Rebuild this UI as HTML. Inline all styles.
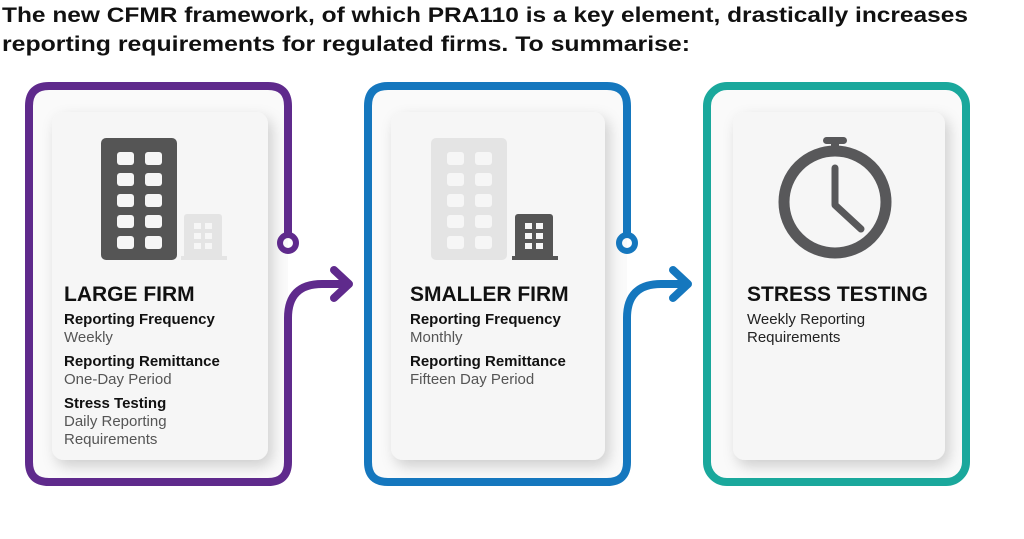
<!DOCTYPE html>
<html><head><meta charset="utf-8"><style>
html,body{margin:0;padding:0;background:#fff;}
svg{display:block;font-family:"Liberation Sans",sans-serif;}
</style></head><body>
<svg width="1024" height="539" viewBox="0 0 1024 539" xmlns="http://www.w3.org/2000/svg">
<defs>
<filter id="sh" x="-20%" y="-20%" width="140%" height="140%">
<feDropShadow dx="4" dy="6" stdDeviation="7" flood-color="#000" flood-opacity="0.18"/>
</filter>
</defs>
<text x="2" y="22" font-size="21" font-weight="bold" fill="#111" textLength="966" lengthAdjust="spacingAndGlyphs">The new CFMR framework, of which PRA110 is a key element, drastically increases</text>
<text x="2" y="51" font-size="21" font-weight="bold" fill="#111" textLength="688" lengthAdjust="spacingAndGlyphs">reporting requirements for regulated firms.  To summarise:</text>

<!-- backgrounds -->
<rect x="29" y="86" width="259" height="396" rx="20" fill="#fafafa"/>
<rect x="368" y="86" width="259" height="396" rx="20" fill="#fafafa"/>
<rect x="707" y="86" width="259" height="396" rx="20" fill="#fafafa"/>

<!-- inner cards -->
<rect x="52" y="112" width="216" height="348" rx="12" fill="#f6f6f6" filter="url(#sh)"/>
<rect x="391" y="112" width="214" height="348" rx="12" fill="#f6f6f6" filter="url(#sh)"/>
<rect x="733" y="112" width="212" height="348" rx="12" fill="#f6f6f6" filter="url(#sh)"/>

<!-- frame 1 -->
<g fill="none" stroke="#5f2a8c" stroke-width="8" stroke-linecap="round" stroke-linejoin="round">
<path d="M288,234 V106 Q288,86 268,86 H49 Q29,86 29,106 V462 Q29,482 49,482 H268 Q288,482 288,462 V318 Q288,284 322,284 H348"/>
<path d="M334,270 L349,284 L334,298"/>
<circle cx="288" cy="243" r="8" stroke-width="6"/>
</g>
<!-- frame 2 -->
<g fill="none" stroke="#1577be" stroke-width="8" stroke-linecap="round" stroke-linejoin="round">
<path d="M627,234 V106 Q627,86 607,86 H388 Q368,86 368,106 V462 Q368,482 388,482 H607 Q627,482 627,462 V318 Q627,284 661,284 H687"/>
<path d="M673,270 L688,284 L673,298"/>
<circle cx="627" cy="243" r="8" stroke-width="6"/>
</g>
<!-- frame 3 -->
<rect x="707" y="86" width="259" height="396" rx="20" fill="none" stroke="#1aa89c" stroke-width="8"/>

<!-- building set 1 -->
<g>
<rect x="101" y="138" width="76" height="122" rx="5" fill="#555"/>
<g fill="#f6f6f6">
<rect x="117" y="152" width="17" height="13" rx="3"/><rect x="145" y="152" width="17" height="13" rx="3"/>
<rect x="117" y="173" width="17" height="13" rx="3"/><rect x="145" y="173" width="17" height="13" rx="3"/>
<rect x="117" y="194" width="17" height="13" rx="3"/><rect x="145" y="194" width="17" height="13" rx="3"/>
<rect x="117" y="215" width="17" height="13" rx="3"/><rect x="145" y="215" width="17" height="13" rx="3"/>
<rect x="117" y="236" width="17" height="13" rx="3"/><rect x="145" y="236" width="17" height="13" rx="3"/>
</g>
<rect x="184" y="214" width="38" height="46" rx="3" fill="#e4e4e4"/>
<rect x="181" y="256" width="46" height="4" fill="#e4e4e4"/>
<g fill="#f6f6f6">
<rect x="194" y="223" width="7" height="6"/><rect x="205" y="223" width="7" height="6"/>
<rect x="194" y="233" width="7" height="6"/><rect x="205" y="233" width="7" height="6"/>
<rect x="194" y="243" width="7" height="6"/><rect x="205" y="243" width="7" height="6"/>
</g>
</g>
<!-- building set 2 -->
<g>
<rect x="431" y="138" width="76" height="122" rx="5" fill="#e4e4e4"/>
<g fill="#f6f6f6">
<rect x="447" y="152" width="17" height="13" rx="3"/><rect x="475" y="152" width="17" height="13" rx="3"/>
<rect x="447" y="173" width="17" height="13" rx="3"/><rect x="475" y="173" width="17" height="13" rx="3"/>
<rect x="447" y="194" width="17" height="13" rx="3"/><rect x="475" y="194" width="17" height="13" rx="3"/>
<rect x="447" y="215" width="17" height="13" rx="3"/><rect x="475" y="215" width="17" height="13" rx="3"/>
<rect x="447" y="236" width="17" height="13" rx="3"/><rect x="475" y="236" width="17" height="13" rx="3"/>
</g>
<rect x="515" y="214" width="38" height="46" rx="3" fill="#555"/>
<rect x="512" y="256" width="46" height="4" fill="#555"/>
<g fill="#f6f6f6">
<rect x="525" y="223" width="7" height="6"/><rect x="536" y="223" width="7" height="6"/>
<rect x="525" y="233" width="7" height="6"/><rect x="536" y="233" width="7" height="6"/>
<rect x="525" y="243" width="7" height="6"/><rect x="536" y="243" width="7" height="6"/>
</g>
</g>
<!-- stopwatch -->
<g fill="none" stroke="#58585a" stroke-linecap="round">
<circle cx="835" cy="202" r="51" stroke-width="11"/>
<rect x="823" y="137" width="24" height="7" rx="3.5" fill="#58585a" stroke="none"/>
<rect x="831" y="143" width="8" height="8" fill="#58585a" stroke="none"/>
<path d="M835,168 V205 L861,229" stroke-width="7" stroke-linejoin="round"/>
</g>

<!-- texts -->
<g fill="#111">
<text x="64" y="301" font-size="21" font-weight="bold">LARGE FIRM</text>
<text x="64" y="324" font-size="15" font-weight="bold">Reporting Frequency</text>
<text x="64" y="342" font-size="15" fill="#555">Weekly</text>
<text x="64" y="366" font-size="15" font-weight="bold">Reporting Remittance</text>
<text x="64" y="384" font-size="15" fill="#555">One-Day Period</text>
<text x="64" y="408" font-size="15" font-weight="bold">Stress Testing</text>
<text x="64" y="426" font-size="15" fill="#555">Daily Reporting</text>
<text x="64" y="444" font-size="15" fill="#555">Requirements</text>

<text x="410" y="301" font-size="21" font-weight="bold">SMALLER FIRM</text>
<text x="410" y="324" font-size="15" font-weight="bold">Reporting Frequency</text>
<text x="410" y="342" font-size="15" fill="#555">Monthly</text>
<text x="410" y="366" font-size="15" font-weight="bold">Reporting Remittance</text>
<text x="410" y="384" font-size="15" fill="#555">Fifteen Day Period</text>

<text x="747" y="301" font-size="21" font-weight="bold">STRESS TESTING</text>
<text x="747" y="324" font-size="15" fill="#222">Weekly Reporting</text>
<text x="747" y="342" font-size="15" fill="#222">Requirements</text>
</g>
</svg>
</body></html>
